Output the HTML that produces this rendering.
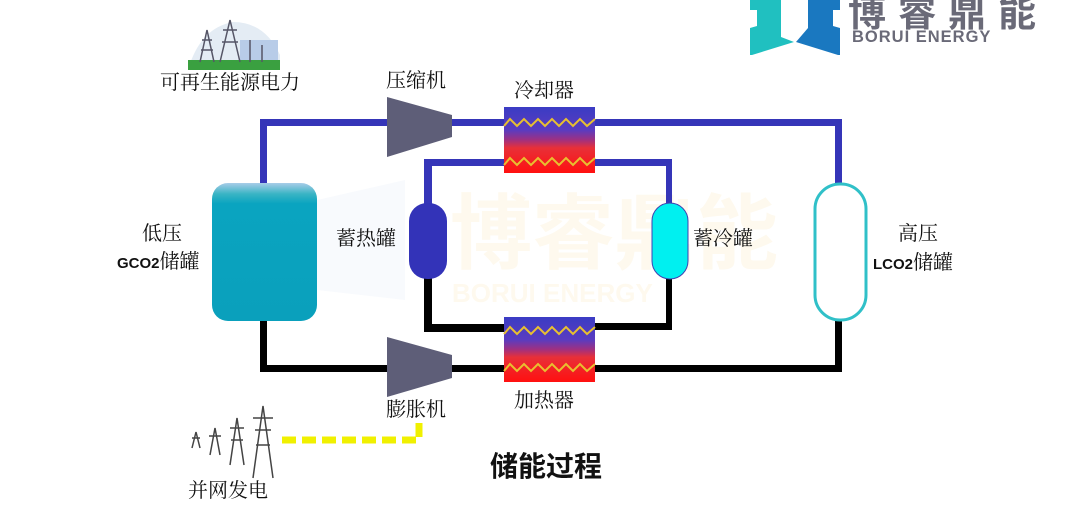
<!DOCTYPE html>
<html><head><meta charset="utf-8"><style>
html,body{margin:0;padding:0;background:#fff;}
body{width:1079px;height:506px;overflow:hidden;position:relative;font-family:"Liberation Serif","Noto Serif CJK SC","Noto Sans CJK SC",serif;}
.t{position:absolute;white-space:nowrap;color:#111;font-size:20px;line-height:1;}
.b{font-family:"Liberation Sans","Noto Sans CJK SC",sans-serif;font-weight:bold;font-size:15px;}
</style></head><body>
<svg width="1079" height="506" style="position:absolute;left:0;top:0">
<defs>
<linearGradient id="hx" x1="0" y1="0" x2="0" y2="1">
<stop offset="0" stop-color="#3a3cc4"/><stop offset="0.35" stop-color="#5a3cc0"/><stop offset="0.5" stop-color="#a03080"/><stop offset="0.62" stop-color="#e83038"/><stop offset="1" stop-color="#ff1010"/></linearGradient>
<linearGradient id="lp" x1="0" y1="0" x2="0" y2="1">
<stop offset="0" stop-color="#a8cce8"/><stop offset="0.08" stop-color="#39b4c4"/><stop offset="0.15" stop-color="#0aa4c0"/><stop offset="1" stop-color="#0aa0bc"/></linearGradient>
</defs>
<text x="450" y="262" font-family="Liberation Sans,Noto Sans CJK SC,sans-serif" font-weight="bold" font-size="82" fill="#fef9ee">博睿鼎能</text>
<text x="452" y="302" font-family="Liberation Sans,sans-serif" font-weight="bold" font-size="26" fill="#fef9ee">BORUI ENERGY</text>
<polygon points="317,200 405,180 405,300 317,290" fill="#f3f7fc" opacity="0.6"/>
<g fill="#3535b8">
<rect x="260" y="119" width="7" height="64"/>
<rect x="260" y="119" width="128" height="7"/>
<rect x="450" y="119" width="56" height="7"/>
<rect x="594" y="119" width="248" height="7"/>
<rect x="835" y="119" width="7" height="65"/>
<rect x="424" y="159" width="82" height="7"/>
<rect x="424" y="159" width="8" height="45"/>
<rect x="594" y="159" width="78" height="7"/>
<rect x="666" y="159" width="6" height="45"/>
</g>
<g fill="#000">
<rect x="260" y="320" width="7" height="52"/>
<rect x="260" y="365" width="128" height="7"/>
<rect x="450" y="365" width="56" height="7"/>
<rect x="594" y="365" width="248" height="7"/>
<rect x="835" y="320" width="7" height="52"/>
<rect x="424" y="278" width="8" height="54"/>
<rect x="424" y="324" width="82" height="8"/>
<rect x="594" y="323" width="78" height="7"/>
<rect x="666" y="278" width="6" height="52"/>
</g>
<polygon points="387,97 452,115 452,137 387,157" fill="#5e5e78"/>
<polygon points="387,337 452,355 452,378 387,397" fill="#5e5e78"/>
<rect x="504" y="107" width="91" height="66" fill="url(#hx)"/>
<rect x="504" y="317" width="91" height="65" fill="url(#hx)"/>
<polyline points="504,126 510,119 517,126 524,119 531,126 538,119 545,126 552,119 559,126 566,119 573,126 580,119 587,126 595,119" fill="none" stroke="#e8c030" stroke-width="2"/>
<polyline points="504,165 510,158 517,165 524,158 531,165 538,158 545,165 552,158 559,165 566,158 573,165 580,158 587,165 595,158" fill="none" stroke="#e8c030" stroke-width="2"/>
<polyline points="504,334 510,327 517,334 524,327 531,334 538,327 545,334 552,327 559,334 566,327 573,334 580,327 587,334 595,327" fill="none" stroke="#e8c030" stroke-width="2"/>
<polyline points="504,371 510,364 517,371 524,364 531,371 538,364 545,371 552,364 559,371 566,364 573,371 580,364 587,371 595,364" fill="none" stroke="#e8c030" stroke-width="2"/>
<rect x="212" y="183" width="105" height="138" rx="16" fill="url(#lp)"/>
<rect x="409" y="203" width="38" height="76" rx="18" fill="#3333b8"/>
<rect x="652" y="203" width="36" height="76" rx="18" fill="#00f0f0" stroke="#4040b0" stroke-width="1"/>
<rect x="815" y="184" width="51" height="136" rx="25" fill="#fff" stroke="#30c0c8" stroke-width="3"/>
<polyline points="282,440 419,440 419,423" fill="none" stroke="#f0f000" stroke-width="7" stroke-dasharray="14,6"/>
<path d="M188,70 Q200,28 233,22 Q265,22 280,55 L280,70 Z" fill="#e4ecf4"/>
<rect x="188" y="60" width="92" height="10" fill="#3aa040"/>
<rect x="240" y="40" width="38" height="20" fill="#b8cce8"/>
<g stroke="#556" stroke-width="1.5" fill="none">
<path d="M200,62 L207,30 L214,62 M202,40 L212,40 M201,50 L213,50"/>
<path d="M220,62 L230,20 L240,62 M223,30 L237,30 M222,42 L238,42"/>
<path d="M250,62 L250,40 M262,62 L262,45"/>
</g>
<g stroke="#444" stroke-width="1.5" fill="none">
<path d="M253,478 L263,406 L273,478 M253,418 L273,418 M255,430 L271,430 M256,445 L270,445"/>
<path d="M230,465 L237,418 L244,465 M230,428 L244,428 M231,440 L243,440"/>
<path d="M210,455 L215,428 L220,455 M209,436 L221,436"/>
<path d="M192,448 L196,432 L200,448 M192,438 L200,438"/>
</g>
<polygon points="750,0 781,0 781,37 794,42 752,55 750,55 750,28 757,26 757,10 750,10" fill="#20c0c0"/>
<polygon points="840,0 808,0 808,28 796,42 838,55 840,55 840,28 833,26 833,10 840,10" fill="#1a78c0"/>
<text x="848" y="26" font-family="Liberation Sans,Noto Sans CJK SC,sans-serif" font-weight="bold" font-size="38" letter-spacing="12" fill="#6a6a78">博睿鼎能</text>
<text x="852" y="42" font-family="Liberation Sans,sans-serif" font-weight="bold" font-size="16.5" letter-spacing="1" fill="#6a6a78">BORUI ENERGY</text>
</svg>
<div class="t" style="left:160px;top:73px;">可再生能源电力</div>
<div class="t" style="left:386px;top:71px;">压缩机</div>
<div class="t" style="left:514px;top:81px;">冷却器</div>
<div class="t" style="left:142px;top:224px;">低压</div>
<div class="t" style="left:117px;top:252px;"><span class="b">GCO2</span>储罐</div>
<div class="t" style="left:336px;top:229px;">蓄热罐</div>
<div class="t" style="left:693px;top:229px;">蓄冷罐</div>
<div class="t" style="left:898px;top:224px;">高压</div>
<div class="t" style="left:873px;top:253px;"><span class="b">LCO2</span>储罐</div>
<div class="t" style="left:386px;top:400px;">膨胀机</div>
<div class="t" style="left:514px;top:391px;">加热器</div>
<div class="t" style="left:188px;top:481px;">并网发电</div>
<div class="t" style="left:490px;top:453px;font-size:28px;font-weight:bold;font-family:'Liberation Sans','Noto Sans CJK SC',sans-serif;">储能过程</div>
</body></html>
